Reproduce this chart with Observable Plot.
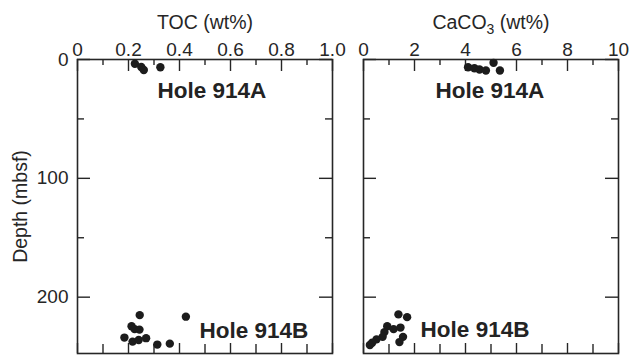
<!DOCTYPE html>
<html>
<head>
<meta charset="utf-8">
<script src="https://cdn.jsdelivr.net/npm/d3@7"></script>
<script src="https://cdn.jsdelivr.net/npm/@observablehq/plot@0.6"></script>
<style>
  body { margin: 0; background: #fff; }
  #chart { display: flex; width: 629px; height: 355px; }
</style>
</head>
<body>
<div id="chart"></div>
<script>
// Site 914: total organic carbon and carbonate content versus depth
const tocA = [0.225, 0.25, 0.26, 0.325];
const tocDepthA = [3.6, 6.3, 8.8, 6.5];
const tocB = [0.244, 0.425, 0.212, 0.224, 0.243, 0.184, 0.216, 0.240, 0.269, 0.313, 0.362];
const tocDepthB = [215.1, 216.4, 224.4, 226.9, 227.3, 234.0, 237.4, 236.1, 234.5, 239.9, 239.1];

const caco3A = [4.1, 4.35, 4.55, 4.8, 5.1, 5.35];
const caco3DepthA = [6.5, 7.3, 8.4, 9.2, 2.8, 9.2];
const caco3B = [1.37, 1.71, 0.93, 1.18, 1.45, 0.82, 1.55, 0.75, 0.51, 0.34, 0.25, 1.41];
const caco3DepthB = [214.5, 216.8, 224.4, 226.9, 225.6, 229.4, 233.4, 233.4, 235.5, 238.4, 240.3, 237.8];

const holeNames = ["Hole 914A", "Hole 914B"];
const depthMajor = [0, 100, 200];
const depthMinor = [50, 150];
const tocMajor = [0, 0.2, 0.4, 0.6, 0.8, 1.0];
const tocMinor = [0.1, 0.3, 0.5, 0.7, 0.9];
const caco3Major = [0, 2, 4, 6, 8, 10];
const caco3Minor = [1, 3, 5, 7, 9];

const ink = "#262626";
const font = "'Liberation Sans', Arial, Helvetica, sans-serif";
const depthDomain = [0, 247.4];
const H = 355, MT = 59, MB = 2;

function pairs(xs, ys) { return xs.map((x, i) => ({x, y: ys[i]})); }

function panel({width, marginLeft, marginRight, xDomain, major, minor, title, points, labels, showDepth}) {
  const innerW = width - marginLeft - marginRight;
  const innerH = H - MT - MB;
  const tickFmt = d => (xDomain[1] === 1 && d !== 0 ? d.toFixed(1) : String(d));
  const tickStyle = {stroke: ink, strokeWidth: 1.4};
  // inward-pointing ticks: each tick spans only a short stretch next to its edge
  const topTicks = (vals, len) => Plot.tickX(vals, {x: d => d, insetBottom: innerH - len, ...tickStyle});
  const bottomTicks = (vals, len) => Plot.tickX(vals, {x: d => d, insetTop: innerH - len, ...tickStyle});
  const leftTicks = (vals, len) => Plot.tickY(vals, {y: d => d, insetRight: innerW - len, ...tickStyle});
  const rightTicks = (vals, len) => Plot.tickY(vals, {y: d => d, insetLeft: innerW - len, ...tickStyle});
  const marks = [
    topTicks(major, 12), topTicks(minor, 6),
    bottomTicks(major, 10), bottomTicks(minor, 9),
    leftTicks(depthMajor, 13), leftTicks(depthMinor, 7),
    rightTicks(depthMajor, 13), rightTicks(depthMinor, 7),
    Plot.frame({stroke: ink, strokeWidth: 1.6}),
    // tick labels along the top
    Plot.axisX(major, {anchor: "top", tickSize: 0, tickPadding: 4, tickFormat: tickFmt, label: null, fill: ink}),
    Plot.text([title], {frameAnchor: "top", dy: -44, lineAnchor: "top", fill: ink, fontSize: 19.5}),
    Plot.dot(points, {x: "x", y: "y", r: 4.2, fill: "#1c1c1c", stroke: "none"}),
    Plot.text(labels, {x: "x", y: "y", text: "name", textAnchor: "start", lineAnchor: "bottom",
      fontWeight: "bold", fontSize: 22.5, fill: "#232323"})
  ];
  if (showDepth) {
    marks.push(
      Plot.axisY(depthMajor, {anchor: "left", tickSize: 0, tickPadding: 9, label: null, fill: ink}),
      Plot.text(["Depth (mbsf)"], {frameAnchor: "left", rotate: -90, dx: -57, textAnchor: "middle",
        lineAnchor: "middle", fill: ink, fontSize: 19.5})
    );
  }
  return Plot.plot({
    width, height: H,
    marginLeft, marginRight, marginTop: MT, marginBottom: MB,
    style: {fontFamily: font, fontSize: "19px", background: "transparent", overflow: "visible", color: ink},
    x: {domain: xDomain},
    y: {domain: depthDomain, reverse: true, axis: showDepth ? undefined : null},
    marks
  });
}

const left = panel({
  width: 345, marginLeft: 77, marginRight: 13,
  xDomain: [0, 1], major: tocMajor, minor: tocMinor,
  title: "TOC (wt%)",
  points: [...pairs(tocA, tocDepthA), ...pairs(tocB, tocDepthB)],
  labels: [{name: holeNames[0], x: 0.314, y: 32}, {name: holeNames[1], x: 0.478, y: 234.2}],
  showDepth: true
});

const right = panel({
  width: 284, marginLeft: 18, marginRight: 11,
  xDomain: [0, 10], major: caco3Major, minor: caco3Minor,
  title: "CaCO3 (wt%)",
  points: [...pairs(caco3A, caco3DepthA), ...pairs(caco3B, caco3DepthB)],
  labels: [{name: holeNames[0], x: 2.82, y: 32.8}, {name: holeNames[1], x: 2.24, y: 233.6}],
  showDepth: false
});

const chart = document.getElementById("chart");
chart.append(left, right);

// write the 3 of CaCO3 as a subscript
right.querySelectorAll("text").forEach(t => {
  if (t.textContent === "CaCO3 (wt%)") {
    const ns = "http://www.w3.org/2000/svg";
    const holder = t.querySelector("tspan") || t;
    holder.textContent = "CaCO";
    const sub = document.createElementNS(ns, "tspan");
    sub.setAttribute("dy", "5");
    sub.setAttribute("font-size", "14");
    sub.textContent = "3";
    const rest = document.createElementNS(ns, "tspan");
    rest.setAttribute("dy", "-5");
    rest.textContent = " (wt%)";
    holder.append(sub, rest);
  }
});
</script>
</body>
</html>
